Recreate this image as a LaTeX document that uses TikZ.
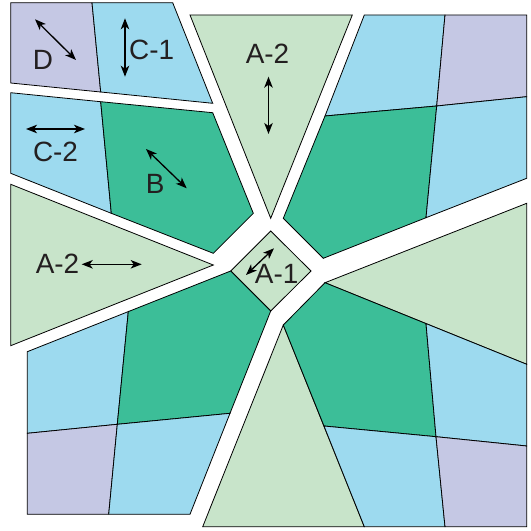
\documentclass[tikz,border=0pt]{standalone}
\usepackage{fontspec}
\setmainfont{Liberation Sans}
\usetikzlibrary{arrows.meta}
\definecolor{lav}{RGB}{197,200,228}
\definecolor{lblue}{RGB}{157,218,239}
\definecolor{dgreen}{RGB}{60,190,152}
\definecolor{lgreen}{RGB}{200,228,202}
\definecolor{txt}{RGB}{35,31,32}
\begin{document}
\begin{tikzpicture}[x=1bp,y=-1bp,
  cell/.style={draw=black,line width=0.8bp,line join=miter},
  lbl/.style={text=txt,font=\fontsize{28}{30}\selectfont,inner sep=0pt},
  dbl/.style={{Stealth[length=11bp,width=8.5bp,inset=3bp]}-{Stealth[length=11bp,width=8.5bp,inset=3bp]},line width=1.3bp,draw=black}]
\useasboundingbox (0,0) rectangle (531,531);
% ---- top-left, row 1 (D, C-1)
\filldraw[cell,fill=lav] (10.7,2.7) -- (92,2.7) -- (100.7,92) -- (10.7,83) -- cycle;
\filldraw[cell,fill=lblue] (92,2.7) -- (172.7,2.7) -- (212.7,103.3) -- (100.7,92) -- cycle;
% ---- top-left, row 2 (C-2, B)
\filldraw[cell,fill=lblue] (10.7,92.7) -- (100.7,101.7) -- (111.3,213.3) -- (10.7,173.3) -- cycle;
\filldraw[cell,fill=dgreen] (100.7,101.7) -- (212.7,112.7) -- (253.3,213.3) -- (213.3,253.3) -- (111.3,213.3) -- cycle;
% ---- triangles A-2
\filldraw[cell,fill=lgreen] (190,15) -- (352.3,15) -- (270.7,218.3) -- cycle;
\filldraw[cell,fill=lgreen] (10.7,184.3) -- (213.3,265) -- (10.7,345.7) -- cycle;
\filldraw[cell,fill=lgreen] (325,282.7) -- (526.7,203.3) -- (526.7,364.3) -- cycle;
\filldraw[cell,fill=lgreen] (283.3,325) -- (364.3,526.7) -- (202.7,526.7) -- cycle;
% ---- centre diamond A-1
\filldraw[cell,fill=lgreen] (270.7,231) -- (311,271) -- (270.7,311) -- (230.7,271) -- cycle;
% ---- top-right block
\filldraw[cell,fill=lblue] (364.3,15) -- (445,15) -- (436.7,106) -- (325,116) -- cycle;
\filldraw[cell,fill=lav] (445,15) -- (526.7,15) -- (526.7,96.7) -- (436.7,106) -- cycle;
\filldraw[cell,fill=dgreen] (325,116) -- (436.7,106) -- (426,217.7) -- (323.3,258.3) -- (283.3,218.3) -- cycle;
\filldraw[cell,fill=lblue] (436.7,106) -- (526.7,96.7) -- (526.7,178.3) -- (426,217.7) -- cycle;
% ---- bottom-right block
\filldraw[cell,fill=dgreen] (325,282.7) -- (426,323.6) -- (436,436.7) -- (324,426) -- (283.3,325) -- cycle;
\filldraw[cell,fill=lblue] (426,323.6) -- (526.7,364.3) -- (526.7,446) -- (436,436.7) -- cycle;
\filldraw[cell,fill=lblue] (324,426) -- (436,436.7) -- (445,526.7) -- (364.3,526.7) -- cycle;
\filldraw[cell,fill=lav] (436,436.7) -- (526.7,446) -- (526.7,526.7) -- (445,526.7) -- cycle;
% ---- bottom-left block
\filldraw[cell,fill=lblue] (27.3,351.7) -- (128.3,311.6) -- (117.3,424.3) -- (27.3,433.3) -- cycle;
\filldraw[cell,fill=dgreen] (128.3,311.6) -- (230.7,271) -- (270.7,311) -- (230,413.3) -- (117.3,424.3) -- cycle;
\filldraw[cell,fill=lav] (27.3,433.3) -- (117.3,424.3) -- (108.7,514.3) -- (27.3,514.3) -- cycle;
\filldraw[cell,fill=lblue] (117.3,424.3) -- (230,413.3) -- (190,514.3) -- (108.7,514.3) -- cycle;
% ---- labels
\node[lbl] (tD) at (43,59.5) {D};
\node[lbl] (tC1) at (151.7,50) {C-1};
\node[lbl] (tC2) at (55.5,151.5) {C-2};
\node[lbl] (tB) at (155.3,183.5) {B};
\node[lbl] (tA2t) at (267.5,53.5) {A-2};
\node[lbl] (tA2l) at (57.5,263.5) {A-2};
\node[lbl] (tA1) at (276.7,273.5) {A-1};
% ---- double arrows
\coordinate (dA) at (35,19.3); \coordinate (dB) at (76,60);
\coordinate (c1A) at (125,18.3); \coordinate (c1B) at (125,76.7);
\coordinate (c2A) at (26,129); \coordinate (c2B) at (85,129);
\coordinate (bA) at (146,149); \coordinate (bB) at (186.7,188.3);
\coordinate (atA) at (268.5,76.7); \coordinate (atB) at (268.5,134);
\coordinate (alA) at (81.7,264.3); \coordinate (alB) at (141.7,264.3);
\coordinate (a1A) at (274,248.3); \coordinate (a1B) at (246,275);
\draw[dbl] (dA) -- (dB);
\draw[dbl] (c1A) -- (c1B);
\draw[dbl] (c2A) -- (c2B);
\draw[dbl] (bA) -- (bB);
\draw[dbl] (atA) -- (atB);
\draw[dbl] (alA) -- (alB);
\draw[dbl] (a1A) -- (a1B);
\end{tikzpicture}
\end{document}
